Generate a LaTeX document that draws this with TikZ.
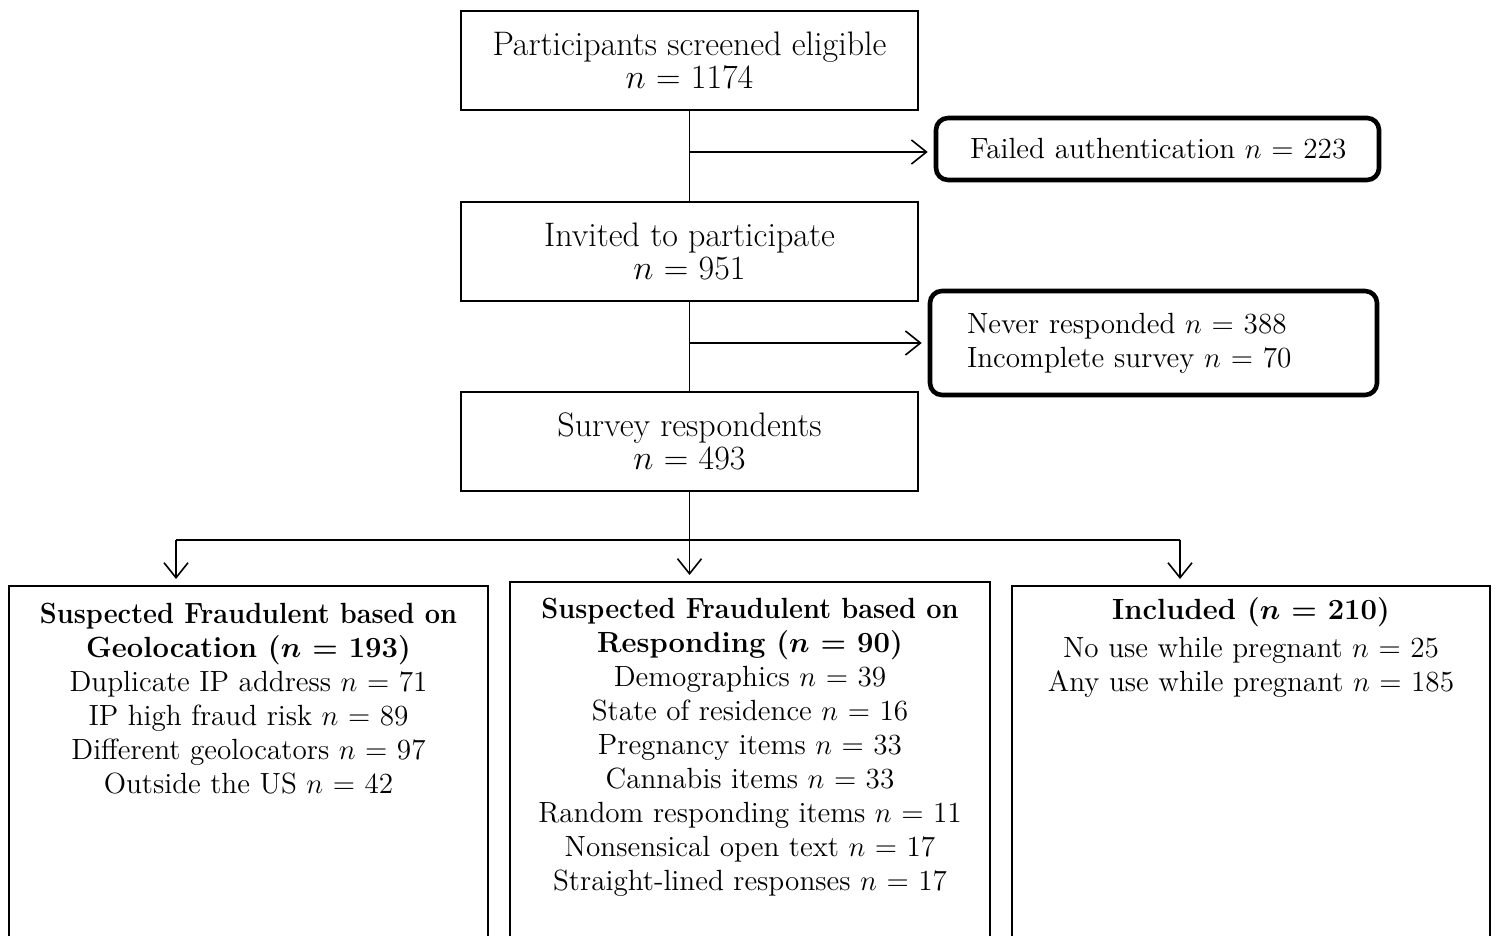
\documentclass[tikz,border=0pt]{standalone}
\usetikzlibrary{arrows.meta}
\begin{document}
\begin{tikzpicture}[x=0.5pt,y=-0.5pt, font=\fontsize{14.6}{17}\selectfont,
  box/.style={draw, line width=1pt, align=center, inner sep=0pt, font=\fontsize{17}{16.75}\selectfont},
  rbox/.style={draw, line width=2.3pt, rounded corners=6pt, align=left, inner ysep=0pt},
  bigbox/.style={draw, line width=1pt, anchor=north, inner sep=0pt, minimum height=300pt},
  btext/.style={anchor=north, align=center, inner sep=0pt},
  conn/.style={line width=0.8pt},
  arr/.style={conn, -{Straight Barb[length=7.5pt,width=12pt]}, shorten >=3pt}]
\useasboundingbox (0,0) rectangle (1496,936);
\clip (0,0) rectangle (1496,936);
\node[box, minimum width=228.5pt, minimum height=49.5pt] (elig) at (689.5,60.5) {Participants screened eligible\\$n$ = 1174};
\node[box, minimum width=228.5pt, minimum height=49.5pt] (inv) at (689.5,251.5) {Invited to participate\\$n$ = 951};
\node[box, minimum width=228.5pt, minimum height=49.5pt] (surv) at (689.5,441.5) {Survey respondents\\$n$ = 493};
\node[rbox, text width=187.5pt, inner xsep=17pt, minimum height=31pt] (fail) at (1157.5,149) {\mbox{Failed authentication $n$ = 223}};
\node[rbox, text width=186.5pt, inner xsep=18.5pt, minimum height=52pt] (never) at (1153.5,343) {\mbox{Never responded $n$ = 388}\\\mbox{Incomplete survey $n$ = 70}};
\node[bigbox, minimum width=239.5pt] (geo) at (248.5,585) {};
\node[bigbox, minimum width=240pt] (resp) at (750,581) {};
\node[bigbox, minimum width=239pt] (incl) at (1251,585) {};
\node[btext] (geot) at (248.5,603) {\scalebox{0.93}[1]{\textbf{Suspected Fraudulent based on}}\\\textbf{Geolocation ({\boldmath$n$} = 193)}\\Duplicate IP address $n$ = 71\\IP high fraud risk $n$ = 89\\Different geolocators $n$ = 97\\Outside the US $n$ = 42};
\node[btext] (respt) at (750,598) {\scalebox{0.93}[1]{\textbf{Suspected Fraudulent based on}}\\\textbf{Responding ({\boldmath$n$} = 90)}\\Demographics $n$ = 39\\State of residence $n$ = 16\\Pregnancy items $n$ = 33\\Cannabis items $n$ = 33\\Random responding items $n$ = 11\\Nonsensical open text $n$ = 17\\Straight-lined responses $n$ = 17};
\node[btext] (inclt) at (1251,597) {\textbf{Included ({\boldmath$n$} = 210)}\\[2pt]No use while pregnant $n$ = 25\\Any use while pregnant $n$ = 185};
\draw[conn] (elig.south) -- (inv.north);
\draw[conn] (inv.south) -- (surv.north);
\draw[arr] ([yshift=-1.5pt]elig.south |- fail.west) -- ([yshift=-1.5pt]fail.west);
\draw[arr] (inv.south |- never.west) -- (never.west);
\coordinate (split) at (689.5,540);
\coordinate (jl) at (176,540);
\coordinate (jr) at (1180,540);
\draw[conn] (surv.south) -- (split);
\draw[conn] (jl) -- (jr);
\draw[arr] (jl) -- (jl |- geo.north);
\draw[arr] (split) -- (split |- resp.north);
\draw[arr] (jr) -- (jr |- incl.north);
\end{tikzpicture}
\end{document}
